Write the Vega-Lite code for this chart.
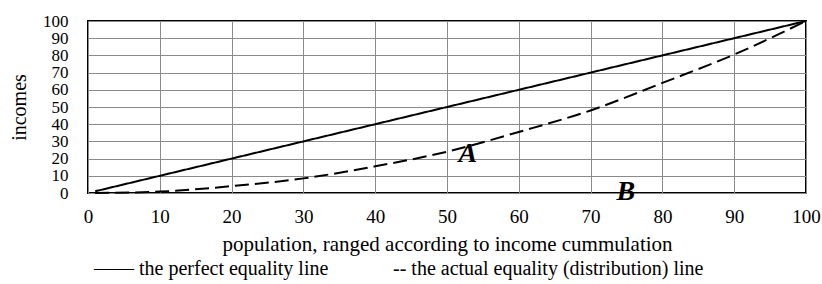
{
  "$schema": "https://vega.github.io/schema/vega-lite/v6.json",
  "width": 718,
  "height": 172,
  "autosize": {"type": "none"},
  "padding": {"left": 88, "top": 21, "right": 16, "bottom": 91},
  "background": "white",
  "config": {
    "font": "Liberation Serif",
    "view": {"stroke": "black", "strokeWidth": 2},
    "axis": {
      "labelFont": "Liberation Serif",
      "titleFont": "Liberation Serif",
      "labelColor": "black",
      "titleColor": "black",
      "titleFontWeight": "normal",
      "labelFontSize": 20,
      "titleFontSize": 20,
      "labelOverlap": false,
      "grid": true,
      "gridColor": "#8a8a8a",
      "gridWidth": 1,
      "domain": false,
      "ticks": false
    }
  },
  "datasets": {
    "lines": [
      {"series": "perfect", "x": 1, "y": 1},
      {"series": "perfect", "x": 100, "y": 100},
      {"series": "actual", "x": 1, "y": 0},
      {"series": "actual", "x": 10, "y": 0.8},
      {"series": "actual", "x": 20, "y": 4},
      {"series": "actual", "x": 30, "y": 8.5},
      {"series": "actual", "x": 40, "y": 15.5},
      {"series": "actual", "x": 50, "y": 24},
      {"series": "actual", "x": 60, "y": 35.5},
      {"series": "actual", "x": 70, "y": 48},
      {"series": "actual", "x": 80, "y": 64},
      {"series": "actual", "x": 90, "y": 80.5},
      {"series": "actual", "x": 100, "y": 100}
    ],
    "labels": [
      {"label": "A", "x": 52.9, "y": 22.8},
      {"label": "B", "x": 74.9, "y": 0.8}
    ]
  },
  "encoding": {
    "x": {
      "field": "x", "type": "quantitative",
      "scale": {"domain": [0, 100], "nice": false},
      "axis": {"tickCount": 20, "tickMinStep": 10, "title": "population, ranged according to income cummulation", "labelFontSize": 19, "titleFontSize": 21, "labelPadding": 14, "titlePadding": 7, "labelOverlap": false, "labelFlush": false}
    },
    "y": {
      "field": "y", "type": "quantitative",
      "scale": {"domain": [0, 100], "nice": false},
      "axis": {"tickCount": 20, "tickMinStep": 10, "title": "incomes", "labelFontSize": 17, "titleFontSize": 20, "labelPadding": 20, "titlePadding": 13, "labelOverlap": false, "labelFlush": false}
    }
  },
  "layer": [
    {
      "data": {"name": "lines"},
      "mark": {"type": "line", "color": "black", "strokeWidth": 2, "interpolate": "monotone"},
      "encoding": {
        "strokeDash": {
          "field": "series", "type": "nominal",
          "scale": {"domain": ["perfect", "actual"], "range": [[1, 0], [14, 6]]},
          "legend": {
            "orient": "none",
            "legendX": -14,
            "legendY": 238,
            "direction": "horizontal",
            "title": null,
            "symbolSize": 0,
            "symbolOpacity": 0,
            "symbolStrokeWidth": 0,
            "labelOffset": 0,
            "columnPadding": 44,
            "labelFont": "Liberation Serif",
            "labelFontSize": 20,
            "labelColor": "black",
            "labelLimit": 600,
            "labelExpr": "datum.label == 'perfect' ? '—— the perfect equality line' : '-- the actual equality (distribution) line'"
          }
        }
      }
    },
    {
      "data": {"name": "labels"},
      "mark": {"type": "text", "font": "Liberation Serif", "fontSize": 28, "fontWeight": "bold", "fontStyle": "italic", "color": "black", "align": "center", "baseline": "middle"},
      "encoding": {
        "text": {"field": "label"}
      }
    }
  ]
}
